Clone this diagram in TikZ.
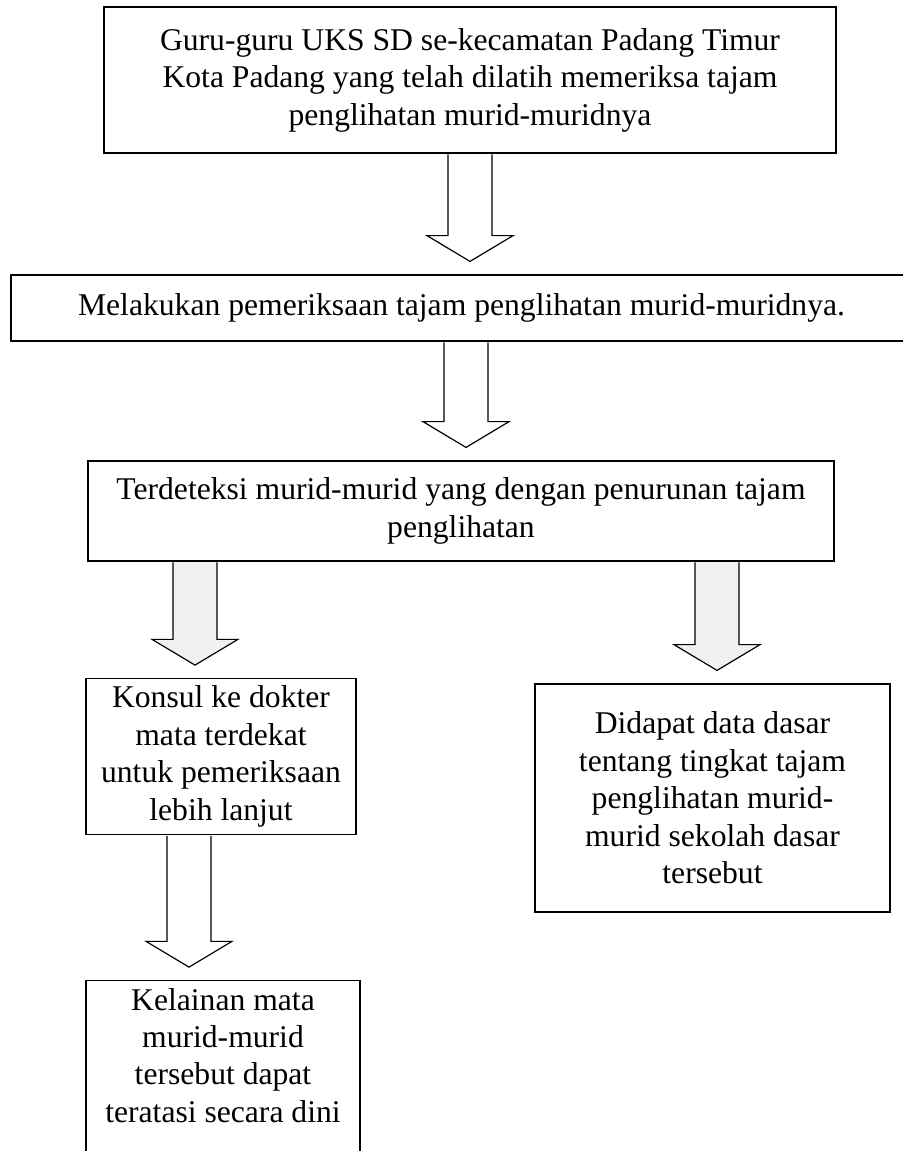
\documentclass[tikz,border=0pt]{standalone}
\usepackage{fontspec}
\setmainfont{Liberation Serif}
\usetikzlibrary{calc}

\begin{document}
\begin{tikzpicture}[x=0.03cm, y=-0.03cm]
\tikzstyle{block} = [draw, rectangle, line width=1.2pt, align=center, inner sep=0pt, font=\fontsize{27}{32}\selectfont]
\tikzstyle{fat} = [draw, line width=1pt, to path={let \p1=(\tikztostart), \p2=(\tikztotarget) in
    (\x1-18.8pt,\y1-0.6pt) -- (\x1-18.8pt,\y2+33pt) -- (\x1-36.7pt,\y2+33pt) -- (\x1,\y2+11pt)
    -- (\x1+36.7pt,\y2+33pt) -- (\x1+18.8pt,\y2+33pt) -- (\x1+18.8pt,\y1-0.6pt)}]
\tikzstyle{grey} = [fill=gray!12]

\useasboundingbox (0,0) rectangle (903,1151);

    % the blocks, placed at their centres (the two lower left ones by their top)
    \node [block, minimum width=21.96cm, minimum height=4.38cm] (teachers) at (470,80)
        {Guru-guru UKS SD se-kecamatan Padang Timur\\ Kota Padang yang telah dilatih memeriksa tajam\\ penglihatan murid-muridnya};
    \node [block, minimum width=27.03cm, minimum height=1.98cm] (check) at (461.5,308)
        {Melakukan pemeriksaan tajam penglihatan murid-muridnya.};
    \node [block, minimum width=22.38cm, minimum height=3cm] (detect) at (461,511)
        {Terdeteksi murid-murid yang dengan penurunan tajam\\ penglihatan};
    \node [block, anchor=north, inner ysep=0.22cm, minimum width=8.1cm] (konsul) at (221,678)
        {Konsul ke dokter\\ mata terdekat\\ untuk pemeriksaan\\ lebih lanjut};
    \node [block, minimum width=10.65cm, minimum height=6.84cm] (data) at (712.5,798)
        {Didapat data dasar\\ tentang tingkat tajam\\ penglihatan murid-\\ murid sekolah dasar\\ tersebut};
    \node [block, anchor=north, inner ysep=0.22cm, text depth=0.9cm, minimum width=8.22cm] (solved) at (223,980)
        {Kelainan mata\\ murid-murid\\ tersebut dapat\\ teratasi secara dini};

    % hollow arrows between the blocks
    \draw [fat] (teachers.south) to (check.north);
    \draw [fat] ($(check.south)+(4.5,0)$) to (detect.north);
    \draw [fat, grey] ($(detect.south)+(-266,0)$) to (konsul.north);
    \draw [fat, grey] ($(detect.south)+(256,0)$) to (data.north);
    \draw [fat] ($(konsul.south)+(-32,0)$) to (solved.north);

\end{tikzpicture}
\end{document}
